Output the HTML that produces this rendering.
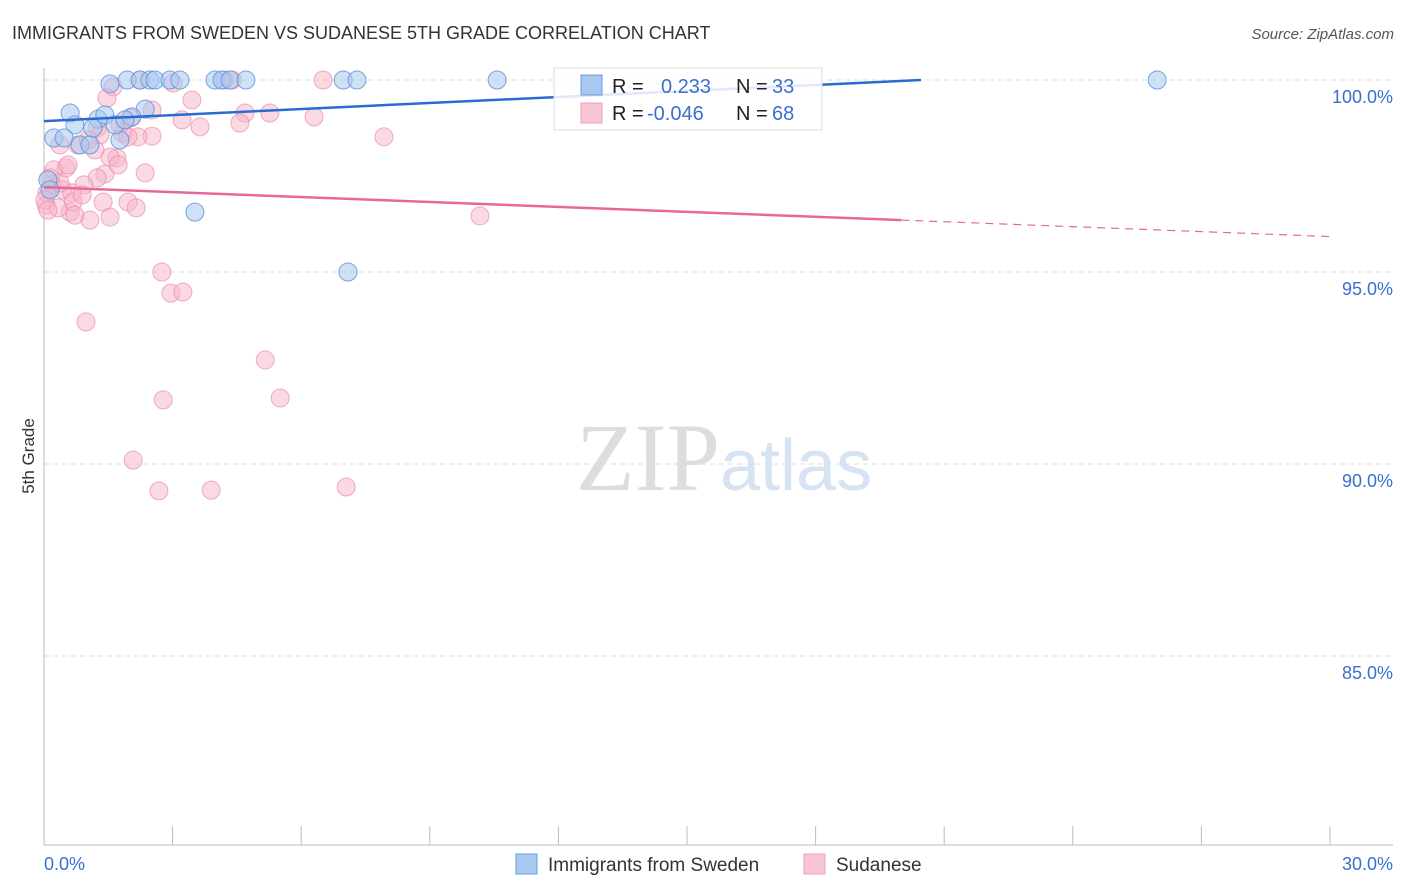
<!DOCTYPE html>
<html><head><meta charset="utf-8"><style>
body{margin:0;background:#fff;font-family:"Liberation Sans",sans-serif}
svg{display:block}
</style></head><body>
<svg id="chart" width="1406" height="892">
<text x="12" y="39" font-size="18" fill="#333">IMMIGRANTS FROM SWEDEN VS SUDANESE 5TH GRADE CORRELATION CHART</text>
<text x="1394" y="39" font-size="15" fill="#555" font-style="italic" text-anchor="end">Source: ZipAtlas.com</text>
<text x="34" y="456" font-size="17" fill="#333" transform="rotate(-90 34 456)" text-anchor="middle">5th Grade</text>
<text x="720" y="490" font-size="96" fill="#ddd" font-family="Liberation Serif,serif" text-anchor="end">ZIP</text>
<text x="720" y="490" font-size="72" fill="#d6e3f3">atlas</text>
<g id="grid"></g><g id="axes"></g><g id="pts"></g><g id="lines"></g>
<g>
<rect x="554" y="68" width="268" height="62" fill="#fff" fill-opacity="0.85" stroke="#ddd"/>
<rect x="581" y="75" width="21" height="20" fill="#a8c8f0" stroke="#6a9ce0"/>
<text x="612" y="93" font-size="20" fill="#222">R = </text><text x="661" y="93" font-size="20" fill="#3a6fd0">0.233</text>
<text x="736" y="93" font-size="20" fill="#222">N = </text><text x="772" y="93" font-size="20" fill="#3a6fd0">33</text>
<rect x="581" y="103" width="21" height="20" fill="#f9c4d4" stroke="#eea0b8"/>
<text x="612" y="120" font-size="20" fill="#222">R = </text><text x="647" y="120" font-size="20" fill="#3a6fd0">-0.046</text>
<text x="736" y="120" font-size="20" fill="#222">N = </text><text x="772" y="120" font-size="20" fill="#3a6fd0">68</text>
</g>
<g>
<rect x="516" y="854" width="21" height="20" fill="#a8c8f0" stroke="#6a9ce0"/>
<text x="548" y="871" font-size="19" fill="#333">Immigrants from Sweden</text>
<rect x="804" y="854" width="21" height="20" fill="#f9c4d4" stroke="#eea0b8"/>
<text x="836" y="871" font-size="19" fill="#333">Sudanese</text>
</g>
</svg>
<script>
const swedenX=[1.54,1.94,2.24,2.47,2.59,2.94,3.17,3.99,4.15,4.34,4.71,6.98,7.30,10.57,25.97,0.61,0.72,1.26,1.42,2.36,2.05,0.23,0.47,0.84,1.07,1.77,1.66,3.52,7.09,0.09,0.14,1.14,1.89];
const swedenY=[99.90,100,100,100,100,100,100,100,100,100,100,100,100,100,100,99.14,98.83,98.98,99.09,99.24,99.04,98.49,98.49,98.31,98.31,98.44,98.83,96.56,95.0,97.40,97.14,98.75,98.96];
const sudanX=[2.24,4.39,6.51,3.01,1.61,1.47,3.45,2.52,4.69,5.27,6.30,3.22,3.64,4.57,2.01,7.93,2.52,2.19,1.84,1.24,0.79,1.19,1.70,1.54,2.36,1.42,1.24,0.51,0.23,0.93,0.44,0.65,0.19,0.07,0.05,0.61,0.68,1.07,1.38,1.54,1.96,2.15,10.17,2.75,2.96,3.24,0.98,5.16,5.51,2.78,2.08,2.68,3.90,7.05,0.37,0.56,0.33,1.31,1.77,0.89,0.37,0.02,0.72,1.03,1.73,4.20,1.96,0.14,0.09];
const sudanY=[100,100,100,99.92,99.82,99.53,99.48,99.22,99.14,99.14,99.04,98.96,98.78,98.88,99.01,98.52,98.54,98.52,98.62,98.75,98.31,98.18,97.97,97.99,97.58,97.55,97.45,97.71,97.66,97.27,97.14,97.06,97.27,97.06,96.74,96.56,96.82,96.35,96.82,96.43,96.82,96.67,96.46,95.0,94.45,94.48,93.70,92.71,91.72,91.67,90.10,89.30,89.32,89.40,98.31,97.79,96.67,98.57,98.83,97.01,97.32,96.88,96.48,98.44,97.79,100,98.52,97.45,96.61];
const swedenTrend=[98.93,0.0523];
const sudanTrend=[97.21,-0.0429];
const yTicks=[100,95,90,85];
const yTickLabels=["100.0%","95.0%","90.0%","85.0%"];
const xTickLabels=["0.0%","30.0%"];
const NS="http://www.w3.org/2000/svg";
const sx=v=>44+v/30*1286, sy=v=>80+(100-v)/5*192;
function mk(t,a,p){const e=document.createElementNS(NS,t);for(const k in a)e.setAttribute(k,a[k]);p.appendChild(e);return e;}
const grid=document.getElementById('grid'),axes=document.getElementById('axes'),pts=document.getElementById('pts'),lines=document.getElementById('lines');
yTicks.forEach((t,i)=>{
 const l=mk('line',{x1:44,x2:1393,y1:sy(t),y2:sy(t),stroke:'#ddd','stroke-dasharray':'5,4'},grid);
 
 
 const tx=mk('text',{x:1393,y:sy(t)+23,'font-size':18,fill:'#3a6fd0','text-anchor':'end'},axes);
 tx.textContent=yTickLabels[i];
 
 
});
const ya=mk('line',{x1:44,x2:44,y1:68,y2:845,stroke:'#bbb'},axes);


const xa=mk('line',{x1:44,x2:1393,y1:845,y2:845,stroke:'#bbb'},axes);


for(let i=0;i<=10;i++){const t=mk('line',{x1:sx(i*3),x2:sx(i*3),y1:826,y2:845,stroke:'#bbb'},axes);
 
 }
[[0,'start',44],[30,'end',1393]].forEach((d,i)=>{const t=mk('text',{x:d[2],y:870,'font-size':18,fill:'#3a6fd0','text-anchor':d[1]},axes);t.textContent=xTickLabels[i];
 
 });
sudanX.forEach((x,i)=>{const c=mk('circle',{cx:sx(x),cy:sy(sudanY[i]),r:9,fill:'#f7b3c8','fill-opacity':0.5,stroke:'#e98aa9','stroke-opacity':0.7},pts);
 
 });
swedenX.forEach((x,i)=>{const c=mk('circle',{cx:sx(x),cy:sy(swedenY[i]),r:9,fill:'#a8c8f0','fill-opacity':0.55,stroke:'#5b8fd8','stroke-opacity':0.8},pts);
 
 });
const bx2=(100-swedenTrend[0])/swedenTrend[1];
const bl=mk('line',{x1:sx(0),y1:sy(swedenTrend[0]),x2:sx(bx2),y2:sy(100),stroke:'#2a6ad4','stroke-width':2.5},lines);


const py=x=>sudanTrend[0]+sudanTrend[1]*x;
const pl=mk('line',{x1:sx(0),y1:sy(py(0)),x2:sx(20),y2:sy(py(20)),stroke:'#e8679a','stroke-width':2.5},lines);


const pd=mk('line',{x1:sx(20),y1:sy(py(20)),x2:sx(30),y2:sy(py(30)),stroke:'#e8679a','stroke-width':1.2,'stroke-dasharray':'8,6'},lines);


</script>
</body></html>
